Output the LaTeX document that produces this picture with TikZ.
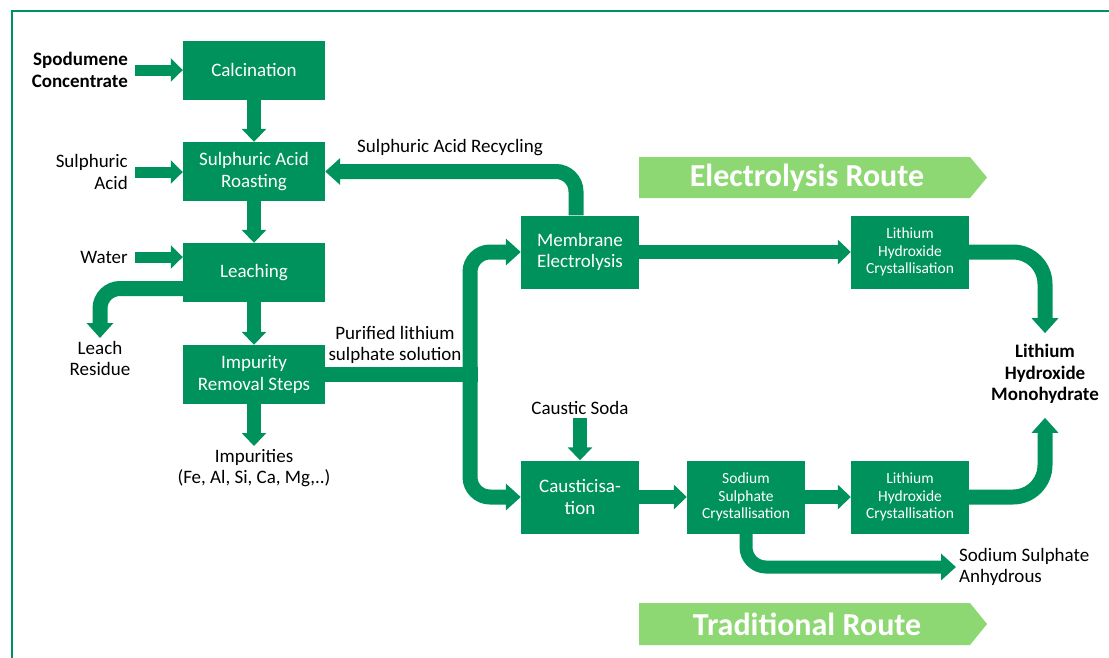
\documentclass[tikz,border=0pt]{standalone}
\usepackage{fontspec}
\setmainfont{Carlito}
\usetikzlibrary{arrows.meta}
\definecolor{procgreen}{RGB}{0,146,92}
\definecolor{routegreen}{RGB}{142,216,115}

\begin{document}
\begin{tikzpicture}[
    x=1pt, y=-1pt,
    box/.style={rectangle, fill=procgreen, text=white, align=center, minimum width=142pt, minimum height=59pt, inner sep=2pt, font=\fontsize{19}{21.5}\selectfont},
    midbox/.style={box, minimum width=118pt, minimum height=73pt},
    smallbox/.style={midbox, font=\fontsize{15.5}{17.5}\selectfont},
    label/.style={align=center, inner sep=3pt, font=\fontsize{19}{21.5}\selectfont},
    feed/.style={draw=procgreen, line width=11pt, -{Triangle[width=23pt,length=12pt]}},
    link/.style={draw=procgreen, line width=14pt, -{Triangle[width=24pt,length=13pt]}},
    flow/.style={draw=procgreen, line width=15pt, rounded corners=20pt, -{Triangle[width=26pt,length=15pt]}},
    routetext/.style={text=white, font=\bfseries\fontsize{32}{36}\selectfont}
]
\useasboundingbox (0,0) rectangle (1109,657);
\clip (0,0) rectangle (1109,657);

% Frame
\draw[procgreen, line width=2pt] (12,700) -- (12,11) -- (1150,11);

% Process boxes
\node[box] (calc) at (254,70) {Calcination};
\node[box] (roast) at (254,171.5) {Sulphuric Acid\\Roasting};
\node[box] (leach) at (254,272.5) {Leaching};
\node[box] (imp) at (254,374.5) {Impurity\\Removal Steps};

\node[midbox] (mem) at (580,252) {Membrane\\Electrolysis};
\node[smallbox] (lhcA) at (910,252) {Lithium\\Hydroxide\\Crystallisation};

\node[midbox] (caust) at (580,497) {Causticisa-\\tion};
\node[smallbox] (ssc) at (746,497) {Sodium\\Sulphate\\Crystallisation};
\node[smallbox] (lhcB) at (910,497) {Lithium\\Hydroxide\\Crystallisation};

% Inputs and outputs
\node[label, align=right, anchor=east, font=\bfseries\fontsize{19}{21.5}\selectfont] (spod) at (131,70) {Spodumene\\Concentrate};
\node[label, align=right, anchor=east] (acid) at (131,172) {Sulphuric\\Acid};
\node[label, anchor=east] (water) at (131,257) {Water};
\node[label, anchor=north] (residue) at (100,338) {Leach\\Residue};
\node[label, anchor=north] (impur) at (254,446) {Impurities\\(Fe, Al, Si, Ca, Mg,..)};
\node[label] (purified) at (395,345) {Purified lithium\\sulphate solution};
\node[label] (recycle) at (450,148) {Sulphuric Acid Recycling};
\node[label] (soda) at (580,408) {Caustic Soda};
\node[label, align=left, anchor=west] (anhyd) at (956,567) {Sodium Sulphate\\Anhydrous};
\node[label, font=\bfseries\fontsize{19}{21.5}\selectfont] (product) at (1045,374) {Lithium\\Hydroxide\\Monohydrate};

% Route banners
\fill[routegreen] (639,157) -- (970,157) -- (987,177.5) -- (970,198) -- (639,198) -- cycle;
\node[routetext] (elec) at (807,178) {Electrolysis Route};
\fill[routegreen] (639,603) -- (970,603) -- (987,624) -- (970,645) -- (639,645) -- cycle;
\node[routetext] (trad) at (807,624) {Traditional Route};

% Feeds
\draw[feed] ([xshift=4pt]spod.east) -- (calc.west);
\draw[feed] ([xshift=4pt]acid.east) -- (acid.east -| roast.west);
\draw[feed] ([xshift=4pt]water.east) -- (water.east -| leach.west);

% Main line
\draw[link] (calc) -- (roast);
\draw[link] (roast) -- (leach);
\draw[link] (leach) -- (imp);
\draw[link] (imp) -- (impur);
\draw[flow] ([yshift=-16pt]leach.west) -| (residue.north);

% Split of the purified solution
\coordinate (split) at (470,374.5);
\draw[flow] (split) |- (mem.west);
\draw[flow] (split) |- (caust.west);
\draw[procgreen, line width=15pt] (imp.east) -- ([xshift=7.5pt]split);
\draw[flow] ([xshift=-4pt]mem.north) |- (roast.east);

% Electrolysis route
\draw[link] (mem) -- (lhcA);
\draw[flow, rounded corners=32pt] (lhcA.east) -| ([yshift=8pt]product.north);

% Traditional route
\draw[link] (soda) -- (caust);
\draw[link] (caust) -- (ssc);
\draw[link] (ssc) -- (lhcB);
\draw[flow, rounded corners=32pt] (lhcB.east) -| ([yshift=-11pt]product.south);
\draw[flow, line width=13pt] (ssc.south) |- (anhyd.west);

\end{tikzpicture}
\end{document}
